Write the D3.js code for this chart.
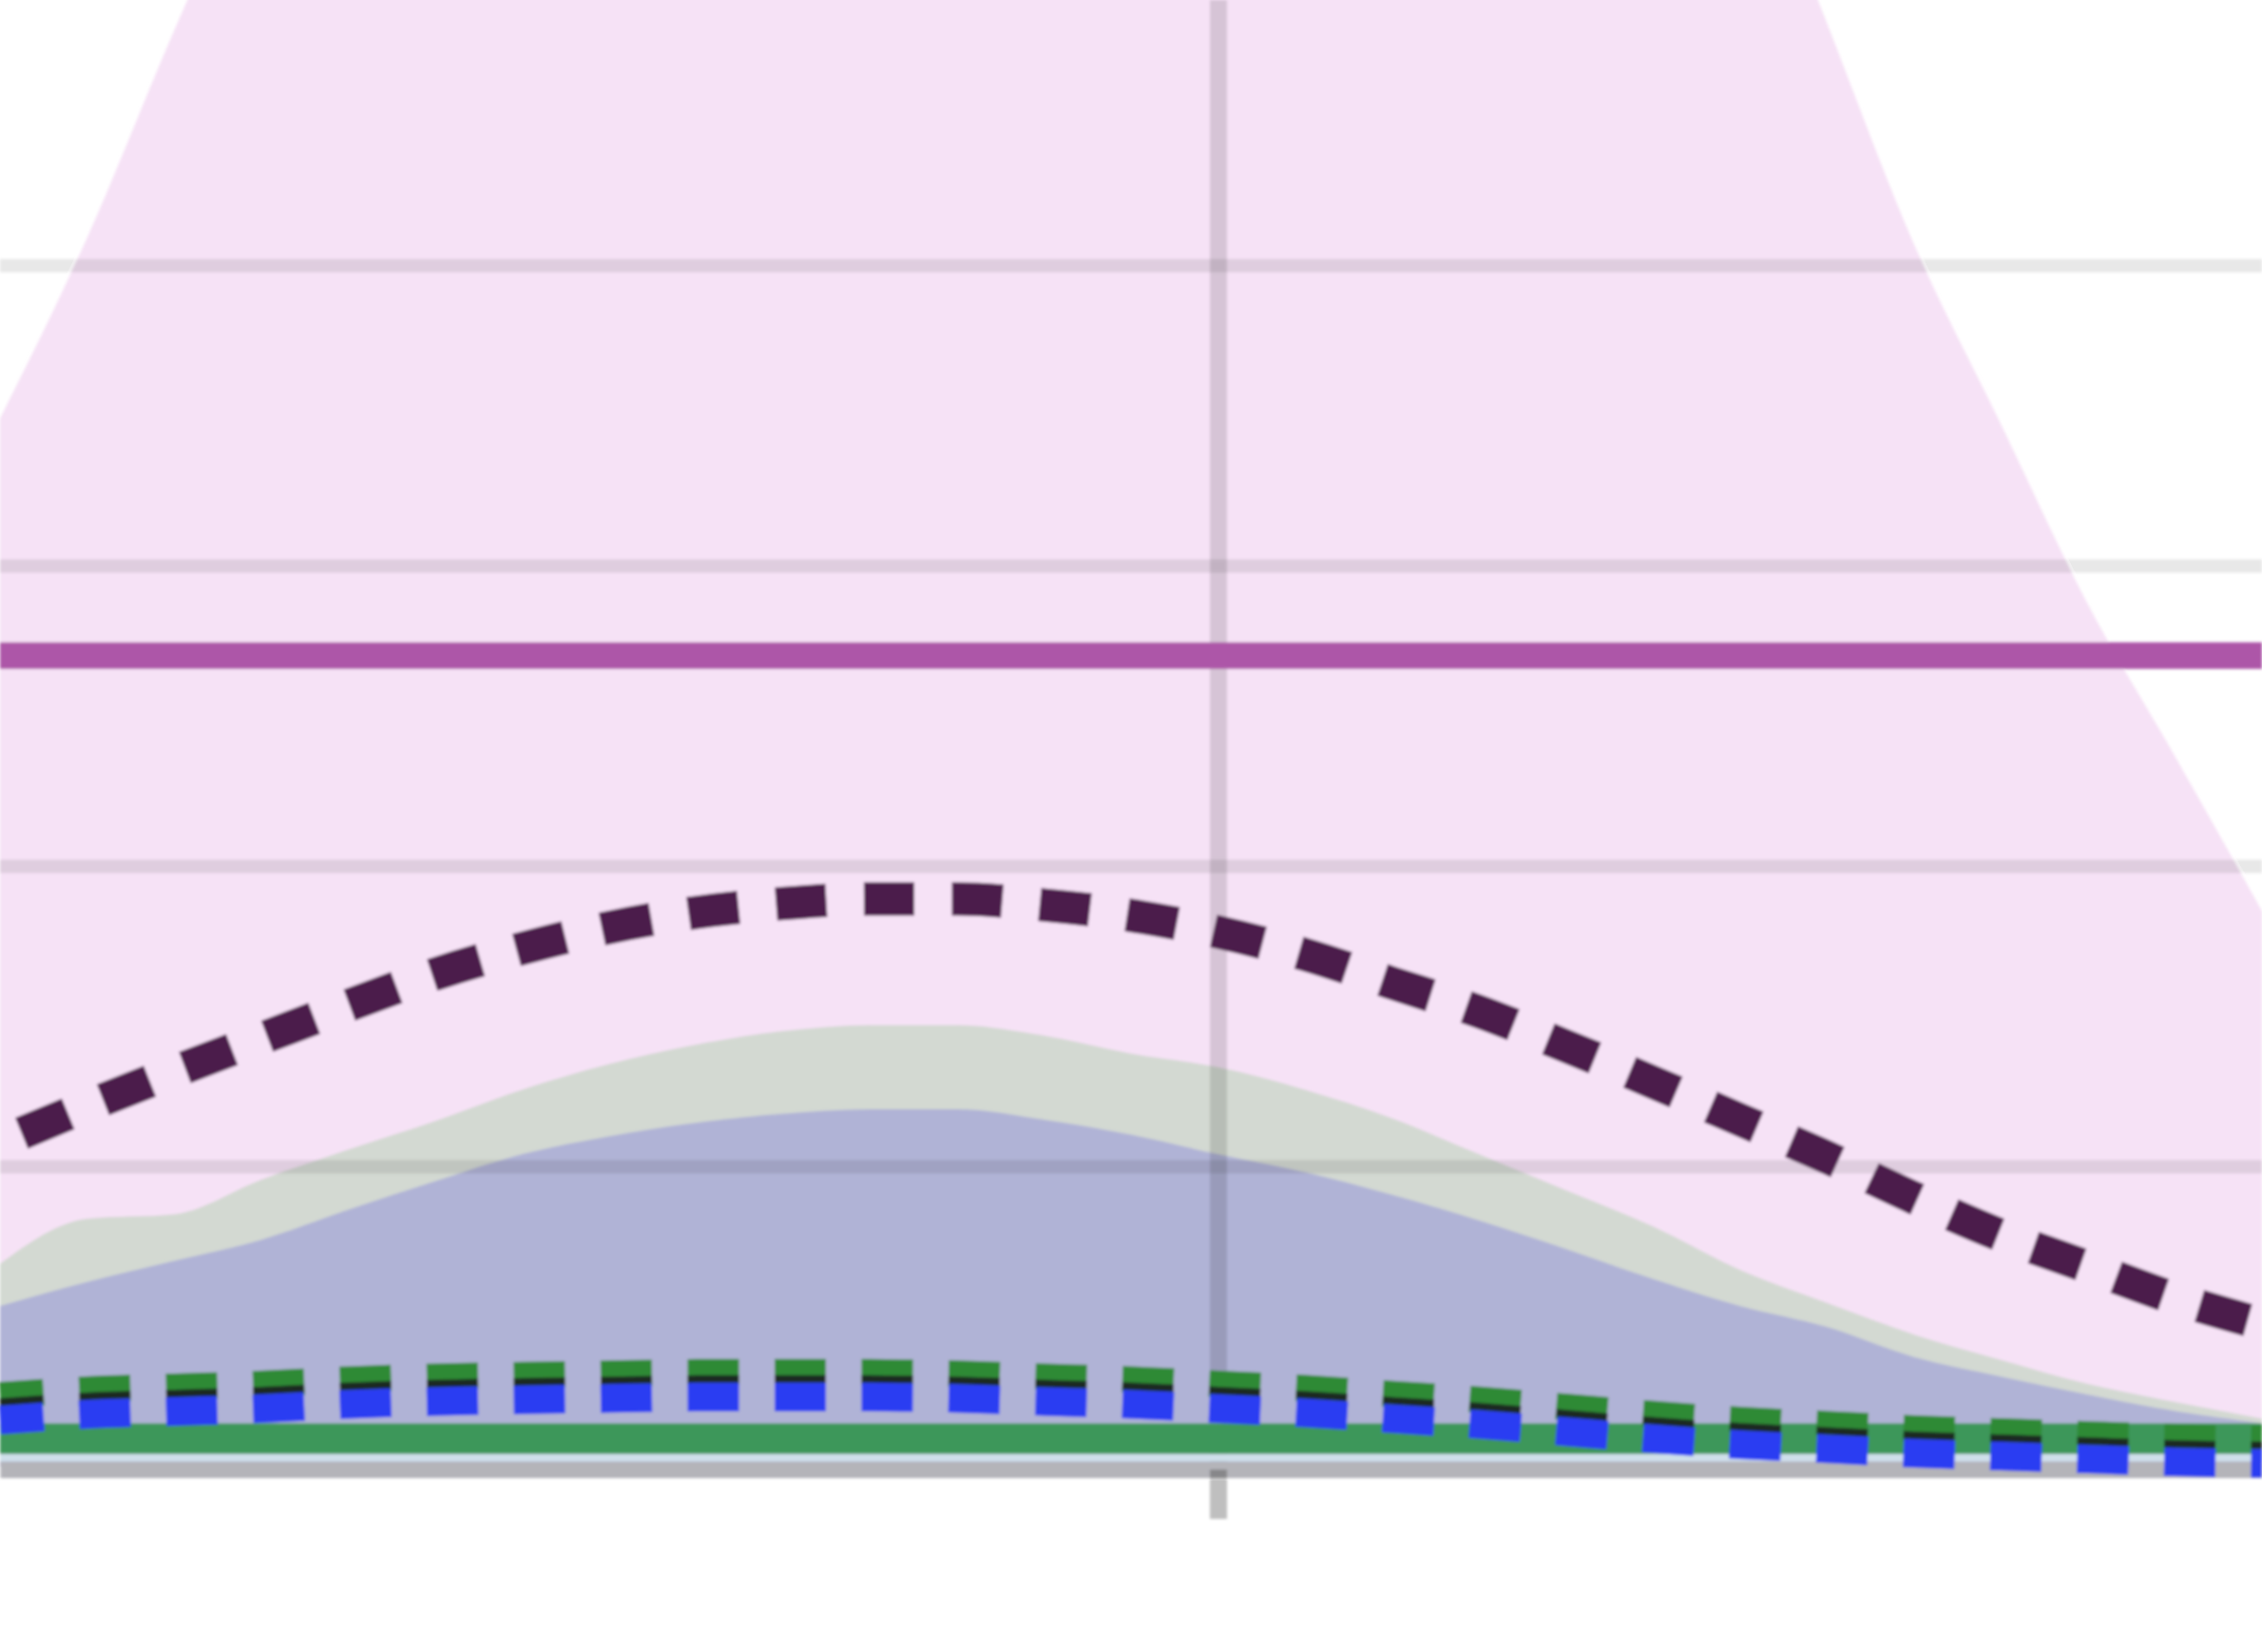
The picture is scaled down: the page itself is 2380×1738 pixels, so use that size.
<!DOCTYPE html>
<html>
<head>
<meta charset="utf-8">
<script src="https://cdn.jsdelivr.net/npm/d3@7"></script>
<style>
html,body{margin:0;padding:0;background:#fff;overflow:hidden}
svg{display:block}
</style>
</head>
<body>
<svg id="chart" width="2380" height="1738"></svg>
<script>
// ---- data ----
const xValues = [0,1,2,3,4,5,6,7,8,9,10,11,12,13,14,15,16,17,18,19,20,21,22,23,24,25,26];
const upperBand = [69.8,81.8,95.6,108.5,119.5,127,133,137,140,141,141.5,141.5,141,140.5,139.5,138,136,134,130,123,111,96.1,81.4,69.4,57.4,47.3,37.0];
const projection = [21.6,24.0,26.3,28.5,30.7,32.8,34.5,35.9,36.9,37.5,37.8,37.8,37.4,36.7,35.6,34.1,32.2,30.3,28.0,25.6,23.1,20.6,17.9,15.4,13.3,11.2,9.5];
const grayArea = [13.5,16.5,16.8,19.1,21.1,23.0,25.1,26.8,28.1,29.0,29.4,29.4,28.7,27.5,26.6,25.1,23.2,20.8,18.4,16.0,13.1,10.9,8.8,7.1,5.5,4.3,3.2];
const blueArea = [10.7,12.3,13.7,15.1,17.1,19.0,20.8,22.0,22.9,23.5,23.8,23.8,23.1,22.1,20.8,19.6,18.1,16.4,14.5,12.5,10.7,9.3,7.3,6.0,4.8,3.7,2.9];
const lowSeries = [3.89,4.27,4.46,4.65,4.94,5.13,5.23,5.33,5.42,5.42,5.42,5.33,5.13,4.94,4.65,4.37,3.98,3.60,3.12,2.64,2.25,1.97,1.68,1.48,1.29,1.10,1.01];
const edgeX = [0, 26];
const thresholdLine = [54, 54];
const greenBaseline = [1.87, 1.87];
const paleBaseline = [0.6, 0.6];
const yGridTicks = [20, 40, 60, 80];
const xMarkerTicks = [14];

// ---- scales ----
const W = 2380, H = 1738;
const x = d3.scaleLinear().domain([0, 26]).range([0, W]);
const y = d3.scaleLinear().domain([0, 100]).range([1543, -37]);

const svg = d3.select('#chart');
const defs = svg.append('defs');
defs.append('filter').attr('id','soft')
  .attr('filterUnits','userSpaceOnUse').attr('x',0).attr('y',0).attr('width',W).attr('height',H)
  .append('feGaussianBlur').attr('stdDeviation',1.5);

const root = svg.append('g').attr('filter','url(#soft)');

const pts = arr => arr.map((v,i)=>({x:xValues[i], v}));
const flat = arr => arr.map((v,i)=>({x:edgeX[i], v}));

const area = d3.area().x(d=>x(d.x)).y0(y(0)).y1(d=>y(d.v)).curve(d3.curveMonotoneX);
const line = d3.line().x(d=>x(d.x)).y(d=>y(d.v)).curve(d3.curveMonotoneX);

// areas
root.append('path').datum(pts(upperBand)).attr('d',area).attr('fill','#f6e2f6');
root.append('path').datum(pts(grayArea)).attr('d',area).attr('fill','#d3d9d2');
root.append('path').datum(pts(blueArea)).attr('d',area).attr('fill','#b0b3d6');

// horizontal grid
root.append('g')
  .call(d3.axisLeft(y).tickValues(yGridTicks).tickSize(-W).tickFormat(''))
  .call(g=>g.select('.domain').remove())
  .call(g=>g.selectAll('line').attr('stroke','rgba(0,0,0,0.09)').attr('stroke-width',14));

// vertical grid marker
root.append('g').attr('transform',`translate(0,${y(0)})`)
  .call(d3.axisBottom(x).tickValues(xMarkerTicks).tickSize(-y(0)).tickFormat(''))
  .call(g=>g.select('.domain').remove())
  .call(g=>g.selectAll('line').attr('stroke','rgba(0,0,0,0.13)').attr('stroke-width',18));

// pale line above axis
root.append('path').datum(flat(paleBaseline)).attr('d',line)
  .attr('fill','none').attr('stroke','#cfe0ea').attr('stroke-width',8);

// x axis
root.append('g').attr('transform',`translate(0,${y(0)+3})`)
  .call(d3.axisBottom(x).tickValues(xMarkerTicks).tickSize(52).tickSizeOuter(0).tickFormat(''))
  .call(g=>g.select('.domain').attr('stroke','#b4b4b9').attr('stroke-width',17))
  .call(g=>g.selectAll('.tick line').attr('stroke','rgba(0,0,0,0.25)').attr('stroke-width',18));

// green baseline
root.append('path').datum(flat(greenBaseline)).attr('d',line)
  .attr('fill','none').attr('stroke','#3c975a').attr('stroke-width',32);

// low dotted series (green top, dark middle, blue bottom)
const lowG = root.append('g');
[['#2e8a35',28,-13.5],['#1b2a22',8,-6.5],['#2a3cf2',30,12.5]].forEach(([c,w,off])=>{
  lowG.append('path').datum(pts(lowSeries)).attr('d',line)
    .attr('transform',`translate(0,${off})`)
    .attr('fill','none').attr('stroke',c).attr('stroke-width',w)
    .attr('stroke-dasharray','54,37.5').attr('stroke-dashoffset',8);
});

// threshold line
root.append('path').datum(flat(thresholdLine)).attr('d',line)
  .attr('fill','none').attr('stroke','#ad57a8').attr('stroke-width',28);

// projection dotted line
root.append('path').datum(pts(projection)).attr('d',line)
  .attr('fill','none').attr('stroke','#4b1c4c').attr('stroke-width',35)
  .attr('stroke-dasharray','53,39.6').attr('stroke-dashoffset',68);
</script>
</body>
</html>
